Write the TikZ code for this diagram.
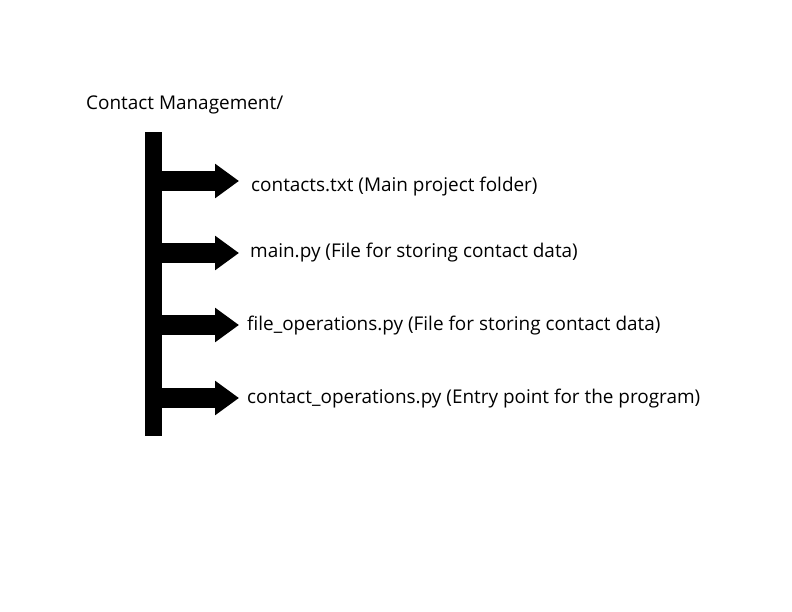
\documentclass[tikz,border=0pt]{standalone}
\usepackage{fontspec}
\setmainfont{Open Sans}
\usetikzlibrary{arrows.meta}
\begin{document}
\begin{tikzpicture}[
        x=1bp, y=-1bp,
        label/.style={anchor=base west, inner sep=0pt, font=\fontsize{19}{23}\selectfont},
        trunk/.style={fill=black, inner sep=0pt, minimum width=17bp, minimum height=304bp},
        branch/.style={line width=20bp, -{Triangle[length=24bp, width=33bp]}}
    ]
        \useasboundingbox (0,0) rectangle (792,612);
        % Folder root and tree trunk
        \node[label] (root) at (86,110) {Contact Management/};
        \node[trunk] (bar) at (153.5,284) {};

        % Files
        \node[label] (contacts) at (251,192) {contacts.txt (Main project folder)};
        \node[label] (main) at (250,257) {main.py (File for storing contact data)};
        \node[label] (fileops) at (247,330) {file\_operations.py (File for storing contact data)};
        \node[label] (contactops) at (247,403) {contact\_operations.py (Entry point for the program)};

        \coordinate (tip1) at (239,181);
        \coordinate (tip2) at (239,253);
        \coordinate (tip3) at (239,325);
        \coordinate (tip4) at (239,398);

        \draw[branch] (bar.center |- tip1) -- (tip1);
        \draw[branch] (bar.center |- tip2) -- (tip2);
        \draw[branch] (bar.center |- tip3) -- (tip3);
        \draw[branch] (bar.center |- tip4) -- (tip4);
    \end{tikzpicture}
\end{document}
